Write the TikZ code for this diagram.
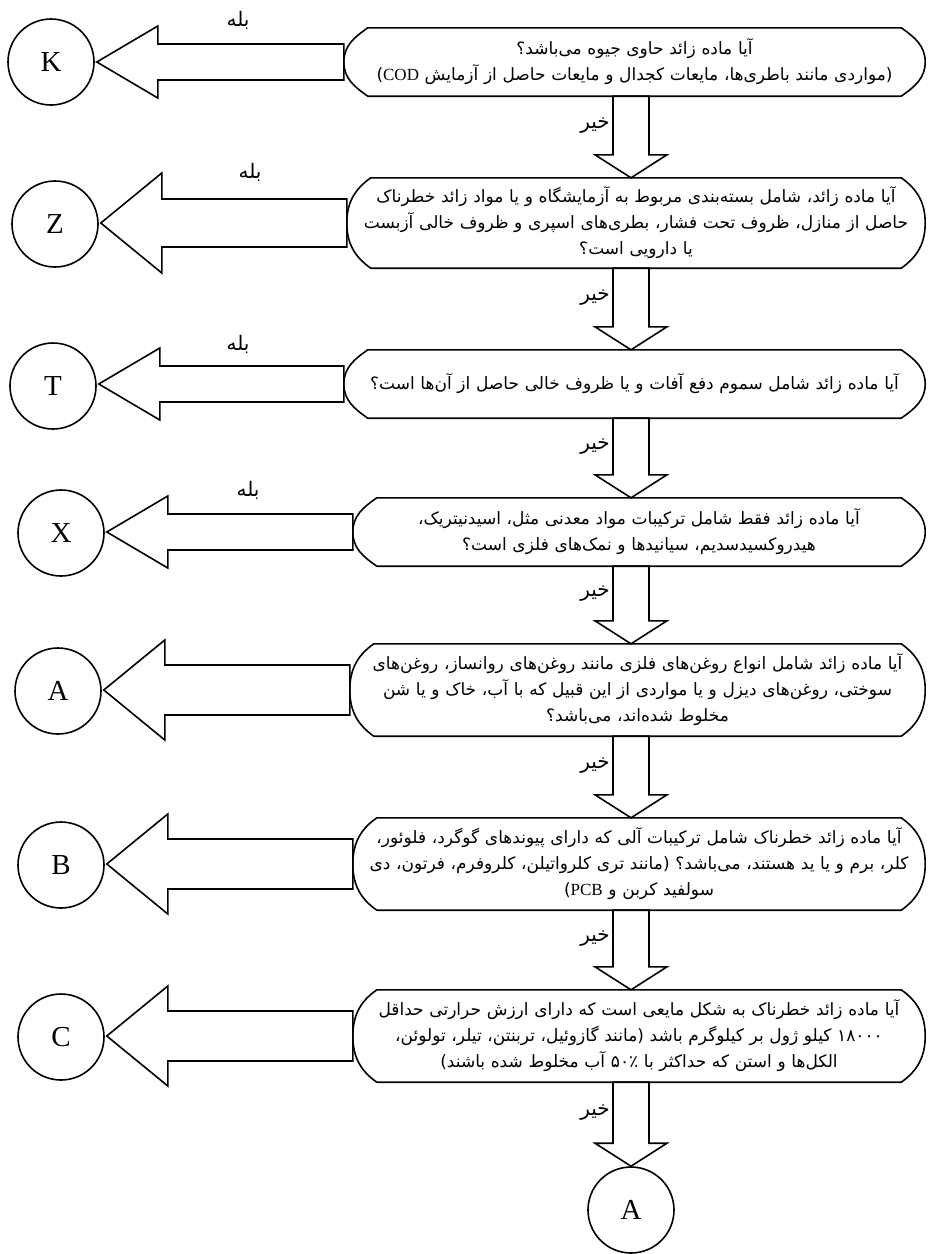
\documentclass[tikz,border=0pt]{standalone}
\usepackage{fontspec}
\usetikzlibrary{calc}
\setmainfont{Liberation Serif}
\newfontfamily\arabicfont[Script=Arabic]{DejaVu Sans}
\TeXXeTstate=1
\newcommand\fa[1]{{\arabicfont\beginR #1\endR}}
\newcommand\lat[1]{{\rmfamily #1}}
\tikzset{
  qbox/.style={inner sep=0pt, align=center, font=\fontsize{17}{26}\selectfont},
  qline/.style={line width=1.6pt, line join=round},
  arr/.style={draw, line width=1.6pt, fill=white, line join=miter},
  endc/.style={circle, draw, line width=1.6pt, minimum size=86pt, inner sep=0pt, font=\fontsize{29}{29}\selectfont},
  lab/.style={inner sep=0pt, font=\fontsize{20}{20}\selectfont},
}
\newcommand\qoutline[1]{%
 \draw[qline] let \p1=(#1.north west), \p2=(#1.south east), \p3=(#1.west), \p4=(#1.east) in
  (\x1+24pt,\y1) -- (\x2-24pt,\y1) to[out=-35,in=90] (\x4,\y4) to[out=-90,in=35] (\x2-24pt,\y2)
  -- (\x1+24pt,\y2) to[out=145,in=-90] (\x3,\y3) to[out=90,in=215] (\x1+24pt,\y1) -- cycle;}
\newcommand\harrow[4]{%
 \draw[arr] let \p1=(#1.west), \p2=(#2.east) in
 (\x1,\y1+#4pt) -- (\x2+63pt,\y1+#4pt) -- (\x2+63pt,\y1+#3pt) -- (\x2+2pt,\y1) -- (\x2+63pt,\y1-#3pt) -- (\x2+63pt,\y1-#4pt) -- (\x1,\y1-#4pt) -- cycle;}
\newcommand\varrow[3]{%
 \draw[arr] let \p1=(#1.south), \p2=(#2.north) in
 (613pt,\y1) -- (613pt,\y2+23pt) -- (595pt,\y2+23pt) -- (631pt,\y2) -- (667pt,\y2+23pt) -- (649pt,\y2+23pt) -- (649pt,\y1) -- cycle;
 \path let \p1=(#1.south), \p2=(#2.north) in node[lab,anchor=east] (#3) at (610pt,{(\y1+\y2+23pt)/2}) {\fa{خیر}};}
\begin{document}
\begin{tikzpicture}[x=1pt,y=1pt]
\fill[white] (0,0) rectangle (930,-1254);
\useasboundingbox (0,0) rectangle (930,-1254);

% question boxes
\node[qbox, text width=581pt, minimum height=68pt] (q1) at (634.5,-62)
 {\fa{آیا ماده زائد حاوی جیوه می‌باشد؟}\\\fa{(مواردی مانند باطری‌ها، مایعات کجدال و مایعات حاصل از آزمایش \lat{COD})}};
\node[qbox, text width=578pt, minimum height=90pt] (q2) at (636,-223)
 {\fa{آیا ماده زائد، شامل بسته‌بندی مربوط به آزمایشگاه و یا مواد زائد خطرناک}\\\fa{حاصل از منازل، ظروف تحت فشار، بطری‌های اسپری و ظروف خالی آزبست}\\\fa{یا دارویی است؟}};
\node[qbox, text width=581pt, minimum height=68pt] (q3) at (634.5,-384)
 {\fa{آیا ماده زائد شامل سموم دفع آفات و یا ظروف خالی حاصل از آن‌ها است؟}};
\node[qbox, text width=572pt, minimum height=68pt] (q4) at (639,-532)
 {\fa{آیا ماده زائد فقط شامل ترکیبات مواد معدنی مثل، اسیدنیتریک،}\\\fa{هیدروکسیدسدیم، سیانیدها و نمک‌های فلزی است؟}};
\node[qbox, text width=575pt, minimum height=92pt] (q5) at (637.5,-690)
 {\fa{آیا ماده زائد شامل انواع روغن‌های فلزی مانند روغن‌های روانساز، روغن‌های}\\\fa{سوختی، روغن‌های دیزل و یا مواردی از این قبیل که با آب، خاک و یا شن}\\\fa{مخلوط شده‌اند، می‌باشد؟}};
\node[qbox, text width=572pt, minimum height=92pt] (q6) at (639,-864)
 {\fa{آیا ماده زائد خطرناک شامل ترکیبات آلی که دارای پیوندهای گوگرد، فلوئور،}\\\fa{کلر، برم و یا ید هستند، می‌باشد؟ (مانند تری کلرواتیلن، کلروفرم، فرتون، دی}\\\fa{سولفید کربن و \lat{PCB})}};
\node[qbox, text width=572pt, minimum height=92pt] (q7) at (639,-1036)
 {\fa{آیا ماده زائد خطرناک به شکل مایعی است که دارای ارزش حرارتی حداقل}\\\fa{۱۸۰۰۰ کیلو ژول بر کیلوگرم باشد (مانند گازوئیل، تربنتن، تیلر، تولوئن،}\\\fa{الکل‌ها و استن که حداکثر با ۵۰٪ آب مخلوط شده باشند)}};
\foreach \q in {q1,q2,q3,q4,q5,q6,q7} {\qoutline{\q}}

% end circles
\node[endc] (cK) at (51,-62) {K};
\node[endc] (cZ) at (55,-224) {Z};
\node[endc] (cT) at (53,-386) {T};
\node[endc] (cX) at (61,-533) {X};
\node[endc] (cA) at (58,-691) {A};
\node[endc] (cB) at (61,-865) {B};
\node[endc] (cC) at (61,-1037) {C};
\node[endc] (cA2) at (631,-1210) {A};

% yes arrows
\harrow{q1}{cK}{36}{18}
\harrow{q2}{cZ}{50}{24}
\harrow{q3}{cT}{36}{18}
\harrow{q4}{cX}{36}{18}
\harrow{q5}{cA}{50}{25}
\harrow{q6}{cB}{50}{25}
\harrow{q7}{cC}{50}{25}
\node[lab] (y1) at (238,-20) {\fa{بله}};
\node[lab] (y2) at (250,-172) {\fa{بله}};
\node[lab] (y3) at (238,-344) {\fa{بله}};
\node[lab] (y4) at (248,-490) {\fa{بله}};

% no arrows
\varrow{q1}{q2}{n1}
\varrow{q2}{q3}{n2}
\varrow{q3}{q4}{n3}
\varrow{q4}{q5}{n4}
\varrow{q5}{q6}{n5}
\varrow{q6}{q7}{n6}
\varrow{q7}{cA2}{n7}
\end{tikzpicture}
\end{document}
